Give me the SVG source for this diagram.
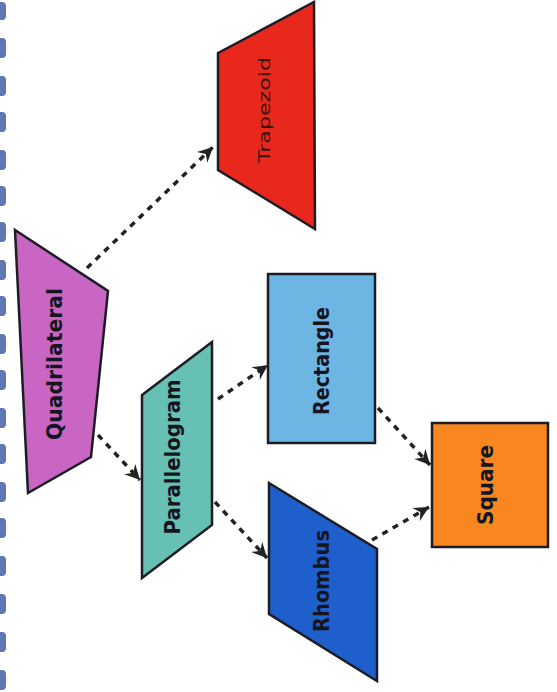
<svg xmlns="http://www.w3.org/2000/svg" width="557" height="692" viewBox="0 0 557 692">
  <defs>
    <marker id="arr" viewBox="-16 -9 18 18" markerWidth="18" markerHeight="18" refX="0" refY="0" orient="auto" markerUnits="userSpaceOnUse">
      <path d="M0,0 L-15,-7.5 L-10,0 L-15,7.5 Z" fill="#222"/>
    </marker>
    <style>
      .shape { stroke: #1c1c24; stroke-width: 2.5; stroke-linejoin: miter; }
      .lbl { font-family: "DejaVu Sans", "Liberation Sans", sans-serif; font-size: 21px; font-weight: bold; fill: #15151f; text-anchor: middle; }
      .thin { font-weight: normal; font-size: 16px; fill: #3a1510; }
      .conn { stroke: #222; stroke-width: 3.5; stroke-dasharray: 6 6; fill: none; marker-end: url(#arr); }
      .blob { fill: #3a55a0; opacity: 0.8; }
    </style>
  </defs>
  <rect width="557" height="692" fill="#ffffff"/>
  <g id="edge-strip">
    <rect class="blob" x="-3" y="2" width="9" height="18" rx="4"/>
    <rect class="blob" x="-3" y="38" width="9" height="20" rx="4"/>
    <rect class="blob" x="-3" y="76" width="9" height="20" rx="4"/>
    <rect class="blob" x="-3" y="112" width="9" height="20" rx="4"/>
    <rect class="blob" x="-3" y="150" width="9" height="20" rx="4"/>
    <rect class="blob" x="-3" y="186" width="9" height="20" rx="4"/>
    <rect class="blob" x="-3" y="222" width="9" height="20" rx="4"/>
    <rect class="blob" x="-3" y="260" width="9" height="20" rx="4"/>
    <rect class="blob" x="-3" y="296" width="9" height="20" rx="4"/>
    <rect class="blob" x="-3" y="334" width="9" height="20" rx="4"/>
    <rect class="blob" x="-3" y="370" width="9" height="20" rx="4"/>
    <rect class="blob" x="-3" y="408" width="9" height="20" rx="4"/>
    <rect class="blob" x="-3" y="444" width="9" height="20" rx="4"/>
    <rect class="blob" x="-3" y="482" width="9" height="20" rx="4"/>
    <rect class="blob" x="-3" y="518" width="9" height="20" rx="4"/>
    <rect class="blob" x="-3" y="556" width="9" height="20" rx="4"/>
    <rect class="blob" x="-3" y="594" width="9" height="20" rx="4"/>
    <rect class="blob" x="-3" y="632" width="9" height="20" rx="4"/>
    <rect class="blob" x="-3" y="670" width="9" height="20" rx="4"/>
  </g>
  <g id="connectors">
    <line class="conn" x1="87" y1="268" x2="213" y2="147"/>
    <line class="conn" x1="98" y1="435" x2="140" y2="480"/>
    <line class="conn" x1="218" y1="399" x2="268" y2="365"/>
    <line class="conn" x1="215" y1="502" x2="267" y2="558"/>
    <line class="conn" x1="378" y1="408" x2="430" y2="465"/>
    <line class="conn" x1="372" y1="540" x2="429" y2="507"/>
  </g>
  <g id="quadrilateral">
    <polygon class="shape" fill="#c965c2" points="15,230 108,291 91,457 28,493"/>
    <text class="lbl" transform="translate(62,364) rotate(-90)" textLength="152" lengthAdjust="spacingAndGlyphs">Quadrilateral</text>
  </g>
  <g id="trapezoid">
    <polygon class="shape" fill="#e8281c" points="218,53 314,2 315,229 218,170"/>
    <text class="lbl thin" transform="translate(270,110) rotate(-90)" textLength="106" lengthAdjust="spacingAndGlyphs">Trapezoid</text>
  </g>
  <g id="parallelogram">
    <polygon class="shape" fill="#66c0b4" points="142,395 212,342 212,525 142,578"/>
    <text class="lbl" transform="translate(180,457) rotate(-90)" textLength="155" lengthAdjust="spacingAndGlyphs">Parallelogram</text>
  </g>
  <g id="rectangle">
    <rect class="shape" fill="#6db5e2" x="268" y="274" width="107" height="169"/>
    <text class="lbl" transform="translate(329,361) rotate(-90)" textLength="108" lengthAdjust="spacingAndGlyphs">Rectangle</text>
  </g>
  <g id="rhombus">
    <polygon class="shape" fill="#1f5fcc" points="269,483 377,549 377,681 269,614"/>
    <text class="lbl" transform="translate(329,581) rotate(-90)" textLength="102" lengthAdjust="spacingAndGlyphs">Rhombus</text>
  </g>
  <g id="square">
    <rect class="shape" fill="#f7871e" x="432" y="423" width="116" height="124"/>
    <text class="lbl" transform="translate(493,485) rotate(-90)" textLength="80" lengthAdjust="spacingAndGlyphs">Square</text>
  </g>
</svg>
